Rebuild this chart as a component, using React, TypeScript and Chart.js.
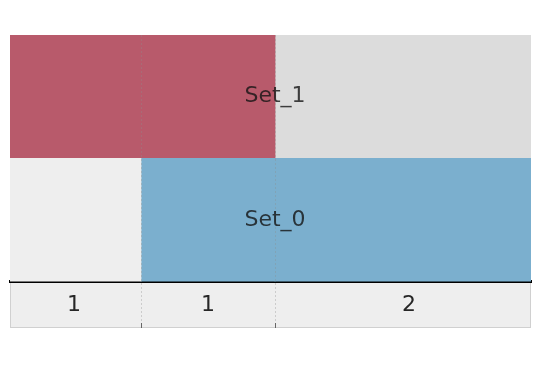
import React, { useEffect, useRef } from "react";
import { Chart, registerables } from "chart.js";

Chart.register(...registerables);

// Rows (top to bottom) and columns (intersection groups)
const setNames = ["Set_1", "Set_0"];
const columnCounts = [1, 1, 2];
const set1Membership = [1, 1, 0];
const set0Membership = [0, 1, 1];

// visible x range (the reference is slightly cropped at both ends)
const xMin = 0.022;
const xMax = 3.91;

const memberColors = ["#b85a6b", "#7bafce"];
const nonMemberColors = ["#dcdcdc", "#eeeeee"];

export default function App() {
  const ref = useRef<HTMLCanvasElement | null>(null);

  useEffect(() => {
    if (!ref.current) return;
    const memberships = [set1Membership, set0Membership];
    const starts: number[] = [];
    let acc = 0;
    columnCounts.forEach((c) => {
      starts.push(acc);
      acc += c;
    });
    const total = acc;
    const centers = columnCounts.map((c, i) => starts[i] + c / 2);
    const boundaries = starts.slice(1);

    const datasets = columnCounts.map((c, ci) => ({
      label: "col" + ci,
      data: setNames.map(() => [starts[ci], starts[ci] + c]),
      backgroundColor: setNames.map((_, ri) =>
        memberships[ri][ci] ? memberColors[ri] : nonMemberColors[ri]
      ),
      borderWidth: 0,
      barPercentage: 1,
      categoryPercentage: 1,
      grouped: false,
    }));

    const deco = {
      id: "deco",
      beforeDraw(chart: any) {
        const { ctx, chartArea } = chart;
        const xs = chart.scales.x;
        ctx.save();
        ctx.fillStyle = "#eeeeee";
        ctx.fillRect(chartArea.left, chartArea.bottom, chartArea.right - chartArea.left, xs.bottom - chartArea.bottom);
        ctx.strokeStyle = "rgba(200,200,200,0.8)";
        ctx.lineWidth = 1;
        ctx.strokeRect(chartArea.left + 0.5, chartArea.top + 0.5, chartArea.right - chartArea.left - 1, xs.bottom - chartArea.top - 1);
        ctx.restore();
      },
      afterDatasetsDraw(chart: any) {
        const { ctx, chartArea } = chart;
        const xs = chart.scales.x;
        const ys = chart.scales.y;
        ctx.save();
        ctx.strokeStyle = "rgba(140,140,140,0.35)";
        ctx.lineWidth = 1;
        ctx.setLineDash([2, 2]);
        boundaries.forEach((b) => {
          const px = Math.round(xs.getPixelForValue(b)) + 0.5;
          ctx.beginPath();
          ctx.moveTo(px, chartArea.top);
          ctx.lineTo(px, xs.bottom);
          ctx.stroke();
        });
        ctx.setLineDash([]);
        ctx.strokeStyle = "#666";
        boundaries.forEach((b) => {
          const px = Math.round(xs.getPixelForValue(b)) + 0.5;
          ctx.beginPath();
          ctx.moveTo(px, xs.bottom - 5);
          ctx.lineTo(px, xs.bottom);
          ctx.stroke();
        });
        ctx.font = "22px 'DejaVu Sans'";
        ctx.fillStyle = "rgba(20,20,20,0.8)";
        ctx.textAlign = "center";
        ctx.textBaseline = "middle";
        const cx = xs.getPixelForValue(total / 2);
        setNames.forEach((n, i) => {
          ctx.fillText(n, cx, ys.getPixelForValue(i));
        });
        ctx.restore();
      },
    };

    const chart = new Chart(ref.current, {
      type: "bar",
      data: { labels: setNames, datasets: datasets as any },
      options: {
        indexAxis: "y",
        animation: false,
        responsive: false,
        maintainAspectRatio: false,
        layout: { padding: { left: 10, right: 10, top: 35, bottom: 40 } },
        plugins: { legend: { display: false }, tooltip: { enabled: false } },
        scales: {
          y: { display: false },
          x: {
            min: xMin,
            max: xMax,
            afterBuildTicks: (scale: any) => {
              scale.ticks = centers.map((v) => ({ value: v }));
            },
            ticks: {
              autoSkip: false,
              maxRotation: 0,
              padding: 10,
              color: "#262626",
              font: { family: "'DejaVu Sans'", size: 22 },
              callback: (v: any) => {
                const i = centers.indexOf(Number(v));
                return i >= 0 ? String(columnCounts[i]) : "";
              },
            },
            grid: { display: false, drawTicks: false },
            border: { display: true, color: "#000", width: 3 },
          },
        },
      },
      plugins: [deco],
    });
    return () => chart.destroy();
  }, []);

  return (
    <div style={{ position: "fixed", left: 0, top: 0, width: 541, height: 368, background: "#fff" }}>
      <canvas ref={ref} width={541} height={368} style={{ width: 541, height: 368 }} />
    </div>
  );
}
